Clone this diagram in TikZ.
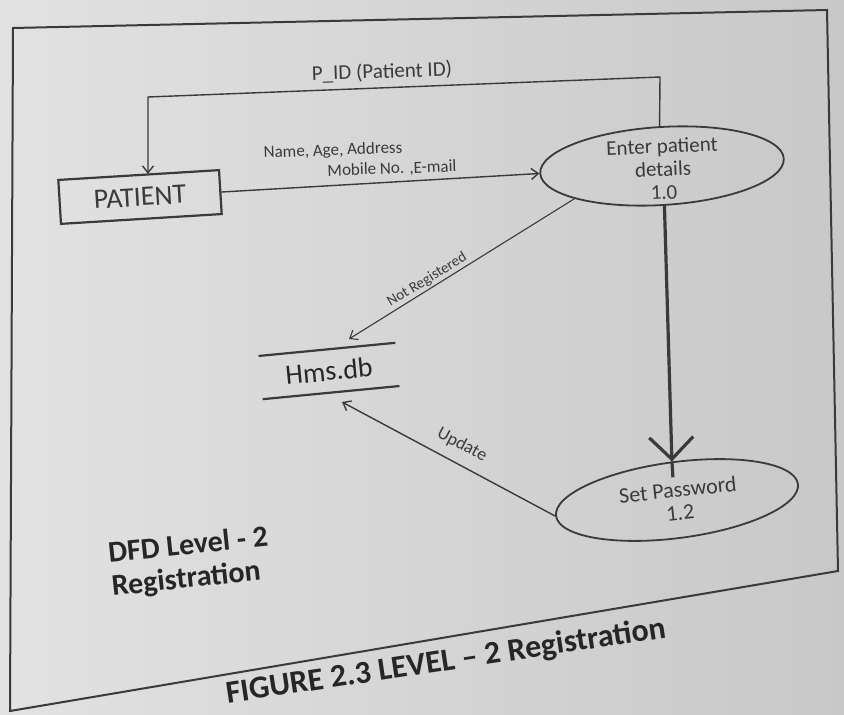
\documentclass[tikz,border=0pt]{standalone}
\usepackage{fontspec}
\setmainfont{Carlito}
\usetikzlibrary{shapes.geometric,arrows.meta,calc}
\definecolor{ink}{RGB}{58,58,58}
\definecolor{darkink}{RGB}{38,38,38}
\definecolor{paperL}{RGB}{226,226,226}
\definecolor{paperR}{RGB}{200,200,200}
\begin{document}
\begin{tikzpicture}[x=1pt,y=-1pt,
  conn/.style={draw=ink, line width=1.4pt},
  tipv/.style={-{Straight Barb[length=7pt,width=11pt]}},
  lbl/.style={text=ink, inner sep=0pt},
  proc/.style={ellipse, draw=ink, line width=1.8pt, inner sep=0pt,
               minimum width=244pt, minimum height=78pt},
  entity/.style={rectangle, draw=ink, line width=2.2pt, text=ink,
                 minimum width=161pt, minimum height=44pt, inner sep=0pt},
]
\useasboundingbox (0,0) rectangle (844,715);
\shade[left color=paperL, right color=paperR] (0,0) rectangle (844,715);
\draw[ink, line width=2pt] (13,28) -- (827,10) -- (838,571) -- (10,711) -- cycle;

% nodes
\node[entity, rotate=3.5, font=\fontsize{28}{30}\selectfont] (patient) at (140,197) {PATIENT};
\node[proc, rotate=3.5] (e1) at (662,166) {};
\node[lbl, rotate=2.5, align=center, font=\fontsize{21}{23}\selectfont] (e1t) at (663,169) {Enter patient\\details\\1.0};
\node[proc, rotate=7.5, minimum height=76pt] (e2) at (677,500) {};
\node[lbl, rotate=6, align=center, font=\fontsize{22}{23}\selectfont] (e2t) at (679,501) {Set Password\\1.2};
\node[lbl, text=darkink, rotate=5.5, minimum width=137pt, minimum height=43pt, font=\fontsize{28}{30}\selectfont] (db) at (329,371) {Hms.db};
\draw[ink, line width=2.2pt] (db.north west) -- (db.north east) (db.south west) -- (db.south east);

% connectors
\coordinate (pidR) at (660,77);
\coordinate (pidL) at (148,97);
\draw[conn, tipv] (e1.north) -- (pidR) -- (pidL) -- (pidL |- patient.north);
\draw[conn, tipv] (patient.east) -- (e1.west);
\coordinate (nrTip) at (349,339);
\draw[conn, line width=1.1pt, tipv] (e1.197) -- (nrTip);
\coordinate (upTip) at (342,402);
\draw[conn, tipv] (e2.west) -- (upTip);
\draw[draw=ink, line width=3.2pt, -{Straight Barb[length=22pt,width=44pt]}] (e1.south) -- (e2.north);
\draw[draw=ink, line width=3.2pt] (e2.north) -- ++(1,16);

% labels
\node[lbl, rotate=2, font=\fontsize{21}{23}\selectfont] (pid) at (382,72) {P\_ID (Patient ID)};
\node[lbl, rotate=2, font=\fontsize{17}{19}\selectfont] (nm1) at (333,151) {Name, Age, Address};
\node[lbl, rotate=2, font=\fontsize{17}{19}\selectfont] (nm2) at (392,169) {Mobile No. ,E-mail};
\node[lbl, rotate=31.5, font=\fontsize{15}{16}\selectfont] (nr) at (427,280) {Not Registered};
\node[lbl, rotate=-28, font=\fontsize{18}{20}\selectfont] (up) at (462,445) {Update};
\node[lbl, text=darkink, rotate=6, align=left, font=\fontsize{30}{33}\selectfont\bfseries] (dfd) at (190,563) {DFD Level - 2\\Registration};
\node[lbl, text=darkink, rotate=8.5, font=\fontsize{32}{34}\selectfont\bfseries] (fig) at (446,662) {FIGURE 2.3 LEVEL – 2 Registration};
\end{tikzpicture}
\end{document}
